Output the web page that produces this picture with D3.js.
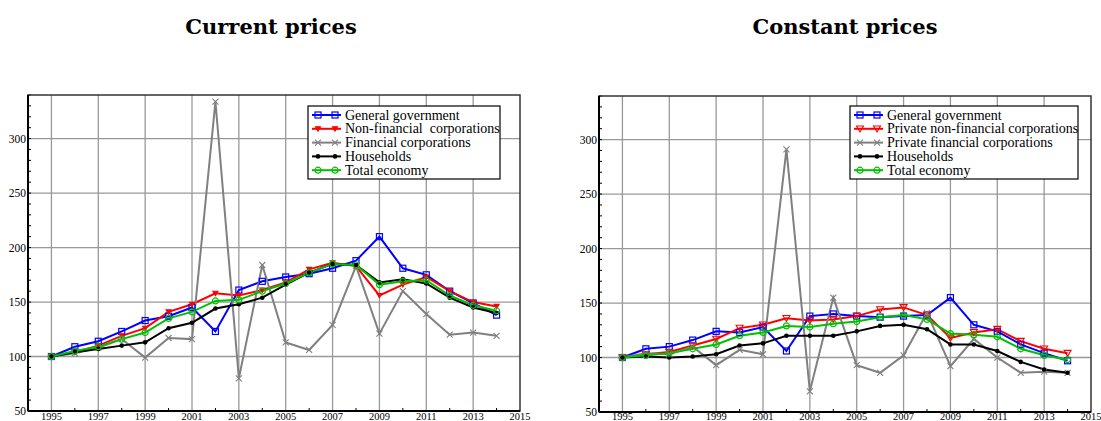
<!DOCTYPE html>
<html>
<head>
<meta charset="utf-8">
<script src="https://cdn.jsdelivr.net/npm/d3@7"></script>
<style>
  body { margin: 0; background: #fff; }
  svg { display: block; }
</style>
</head>
<body>
<svg id="chart" width="1101" height="421"></svg>
<script>
var years = d3.range(1995, 2015);

// current prices
var curGov = [100, 109, 114, 123, 133, 137, 145, 123, 161, 169, 173, 176, 181, 188, 210, 181, 175, 160, 149, 138];
var curNonFin = [100, 104, 110, 119, 126, 141, 148, 158, 156, 161, 168, 180, 186, 183, 156, 166, 173, 160, 150, 146];
var curFin = [100, 103, 108, 116, 99, 117, 116, 334, 80, 184, 113, 106, 129, 183, 121, 160, 139, 120, 122, 119];
var curHouse = [100, 104, 107, 110, 113, 126, 131, 144, 148, 154, 166, 177, 185, 184, 168, 171, 167, 154, 145, 140];
var curTotal = [100, 105, 109, 116, 122, 135, 141, 151, 152, 160, 167, 177, 185, 184, 166, 169, 170, 156, 147, 142];

// constant prices
var conGov = [100, 108, 110, 116, 124, 123, 128, 106, 138, 140, 138, 137, 138, 139, 155, 130, 124, 112, 104, 97];
var conNonFin = [100, 103, 105, 111, 117, 127, 130, 136, 134, 135, 138, 144, 146, 139, 118, 123, 126, 115, 108, 104];
var conFin = [100, 104, 103, 110, 93, 107, 103, 291, 69, 155, 93, 86, 102, 141, 92, 117, 100, 86, 87, 86];
var conHouse = [100, 101, 100, 101, 103, 111, 113, 120, 120, 120, 124, 129, 130, 126, 112, 112, 106, 96, 89, 86];
var conTotal = [100, 102, 104, 108, 112, 120, 123, 129, 128, 131, 133, 137, 139, 135, 122, 121, 119, 108, 102, 98];

var namesCur = ["General government", "Non-financial  corporations", "Financial corporations", "Households", "Total economy"];
var namesCon = ["General government", "Private non-financial corporations", "Private financial corporations", "Households", "Total economy"];
var colors = ["#0000ff", "#ff0000", "#808080", "#000000", "#00c000"];
var yTicks = [50, 100, 150, 200, 250, 300];
var xTicks = d3.range(1995, 2016, 2);
var serif = "'Liberation Serif', 'Times New Roman', serif";

var svg = d3.select("#chart");

function marker(g, kind, filledTri, color) {
  if (kind == 0) {
    g.append("rect").attr("x", -3).attr("y", -3).attr("width", 6).attr("height", 6)
      .attr("fill", "none").attr("stroke", color).attr("stroke-width", 1.2);
  } else if (kind == 1) {
    var s = filledTri ? 2.5 : 3.5;
    g.append("path").attr("d", "M" + (-s) + "," + (-s * 0.8) + "L" + s + "," + (-s * 0.8) + "L0," + (s * 0.9) + "Z")
      .attr("fill", filledTri ? color : "none").attr("stroke", color).attr("stroke-width", 1.1);
  } else if (kind == 2) {
    g.append("path").attr("d", "M-3,-3L3,3M-3,3L3,-3")
      .attr("stroke", color).attr("stroke-width", 1.1);
  } else if (kind == 3) {
    g.append("circle").attr("r", 2.3).attr("fill", color);
  } else {
    g.append("circle").attr("r", 3).attr("fill", "none").attr("stroke", color).attr("stroke-width", 1.2);
  }
}

function drawPanel(opt) {
  var x = d3.scaleLinear().domain([1994, 2015]).range([opt.left, opt.right]);
  var y = d3.scaleLinear().domain([50, 340]).range([opt.bottom, opt.top]);
  var g = svg.append("g");

  // title
  svg.append("text")
    .attr("x", opt.titleX)
    .attr("y", 34)
    .attr("text-anchor", "middle")
    .attr("font-family", "'DejaVu Serif', serif")
    .attr("font-weight", "bold")
    .attr("font-size", 21)
    .text(opt.title);

  // grid
  g.selectAll(".vg").data(xTicks.slice(0, -1)).enter().append("line")
    .attr("x1", d => x(d)).attr("x2", d => x(d))
    .attr("y1", opt.top).attr("y2", opt.bottom)
    .attr("stroke", "#999").attr("stroke-width", 1.3);
  g.selectAll(".hg").data(yTicks.slice(1)).enter().append("line")
    .attr("x1", opt.left).attr("x2", opt.right)
    .attr("y1", d => y(d)).attr("y2", d => y(d))
    .attr("stroke", "#999").attr("stroke-width", 1.3);

  // minor ticks
  g.selectAll(".my").data(d3.range(50, 341, 10)).enter().append("line")
    .attr("x1", opt.left).attr("x2", opt.left + 3)
    .attr("y1", d => y(d)).attr("y2", d => y(d))
    .attr("stroke", "#000").attr("stroke-width", 1);
  g.selectAll(".mx").data(d3.range(1996, 2015, 2)).enter().append("line")
    .attr("x1", d => x(d)).attr("x2", d => x(d))
    .attr("y1", opt.bottom).attr("y2", opt.bottom - 3)
    .attr("stroke", "#000").attr("stroke-width", 1);

  // frame
  g.append("rect")
    .attr("x", opt.left).attr("y", opt.top)
    .attr("width", opt.right - opt.left).attr("height", opt.bottom - opt.top)
    .attr("fill", "none").attr("stroke", "#333").attr("stroke-width", 1.5);
  g.append("line").attr("x1", opt.left).attr("x2", opt.left)
    .attr("y1", opt.top).attr("y2", opt.bottom).attr("stroke", "#000").attr("stroke-width", 2);
  g.append("line").attr("x1", opt.left).attr("x2", opt.right)
    .attr("y1", opt.bottom).attr("y2", opt.bottom).attr("stroke", "#000").attr("stroke-width", 2);

  // tick labels
  g.selectAll(".yl").data(yTicks).enter().append("text")
    .attr("x", opt.left - 2).attr("y", d => y(d) + 4)
    .attr("text-anchor", "end")
    .attr("font-family", serif).attr("font-size", 11.5)
    .text(d => d);
  g.selectAll(".xl").data(xTicks).enter().append("text")
    .attr("x", d => x(d)).attr("y", 420)
    .attr("text-anchor", "middle")
    .attr("font-family", serif).attr("font-size", 10.5)
    .text(d => d);

  // series
  var line = d3.line().x((d, i) => x(years[i])).y(d => y(d));
  opt.series.forEach(function (s, k) {
    g.append("path").datum(s)
      .attr("d", line)
      .attr("fill", "none")
      .attr("stroke", colors[k])
      .attr("stroke-width", 2);
  });
  opt.series.forEach(function (s, k) {
    s.forEach(function (v, i) {
      var m = g.append("g").attr("transform", "translate(" + x(years[i]) + "," + y(v) + ")");
      marker(m, k, opt.filledTri, colors[k]);
    });
  });

  // legend
  var lg = g.append("g");
  lg.append("rect")
    .attr("x", opt.legX).attr("y", 106)
    .attr("width", opt.legW).attr("height", 73)
    .attr("fill", "#fff").attr("stroke", "#000").attr("stroke-width", 1.2);
  opt.names.forEach(function (n, k) {
    var ly = 115 + k * 13.8;
    lg.append("line")
      .attr("x1", opt.legX + 4).attr("x2", opt.legX + 33)
      .attr("y1", ly).attr("y2", ly)
      .attr("stroke", colors[k]).attr("stroke-width", 2);
    [opt.legX + 10, opt.legX + 27].forEach(function (mx) {
      var m = lg.append("g").attr("transform", "translate(" + mx + "," + ly + ")");
      marker(m, k, opt.filledTri, colors[k]);
    });
    lg.append("text")
      .attr("x", opt.legX + 37).attr("y", ly + 4.5)
      .attr("font-family", serif).attr("font-size", 14)
      .style("white-space", "pre")
      .text(n);
  });
}

drawPanel({
  title: "Current prices", titleX: 271,
  left: 28, right: 520, top: 95, bottom: 411,
  series: [curGov, curNonFin, curFin, curHouse, curTotal],
  names: namesCur, filledTri: true,
  legX: 308, legW: 192
});

drawPanel({
  title: "Constant prices", titleX: 845,
  left: 599, right: 1091, top: 96, bottom: 412,
  series: [conGov, conNonFin, conFin, conHouse, conTotal],
  names: namesCon, filledTri: false,
  legX: 850, legW: 228
});
</script>
</body>
</html>
